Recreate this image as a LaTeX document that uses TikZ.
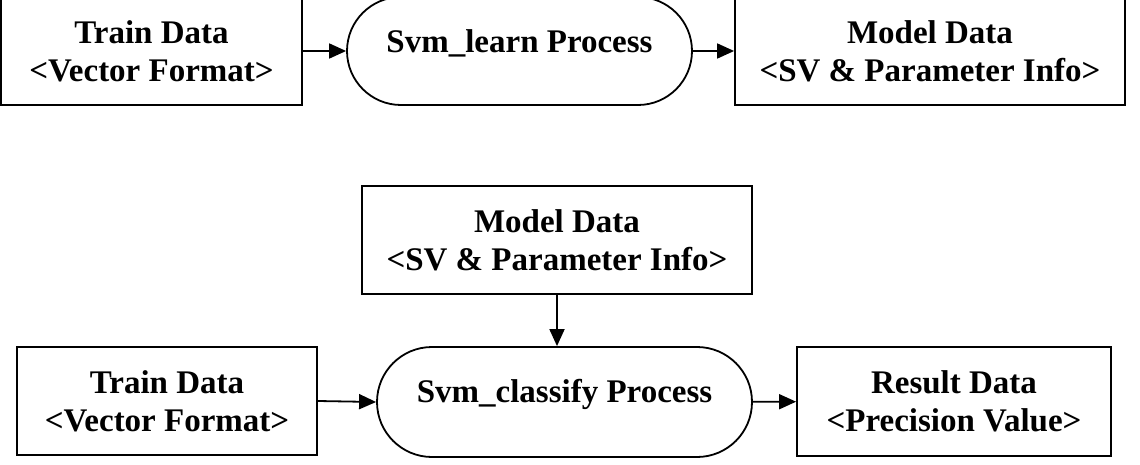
\documentclass[tikz,border=0pt]{standalone}
\usepackage{fontspec}
\setmainfont{Liberation Serif}
\usetikzlibrary{shapes.misc,arrows.meta}
\begin{document}
\begin{tikzpicture}[x=1pt,y=-1pt,
  txt/.style={font=\fontsize{33}{38}\selectfont\bfseries,align=center},
  box/.style={draw,line width=1.8pt,rectangle,inner sep=0pt,txt},
  proc/.style={draw,line width=1.8pt,rounded rectangle,inner sep=0pt},
  arr/.style={line width=1.8pt,-{Triangle[length=17pt,width=15pt]}}]
\useasboundingbox (0,0) rectangle (1140,465);
% top row
\node[box,minimum width=301pt,minimum height=108pt] (train1) at (151.5,51) {Train Data\\<Vector Format>};
\node[proc,minimum width=345pt,minimum height=108pt] (learn) at (519.5,51) {};
\node[txt] (learnt) at (519.5,43) {Svm\_learn Process};
\node[box,minimum width=390pt,minimum height=108pt] (model1) at (930,51) {Model Data\\<SV \& Parameter Info>};
\draw[arr] (train1) -- (learn);
\draw[arr] (learn) -- (model1);
% bottom part
\node[box,minimum width=390pt,minimum height=108pt] (model2) at (557,240) {Model Data\\<SV \& Parameter Info>};
\node[box,minimum width=300pt,minimum height=108pt] (train2) at (167,401) {Train Data\\<Vector Format>};
\node[proc,minimum width=375pt,minimum height=110pt] (classify) at (564.5,402) {};
\node[txt] (classt) at (564.5,394) {Svm\_classify Process};
\node[box,minimum width=314pt,minimum height=109pt] (result) at (954,401.5) {Result Data\\<Precision Value>};
\draw[arr] (model2.south) -- (model2.south |- classify.north);
\draw[arr] (train2.east) -- (classify.west);
\draw[arr] (classify) -- (result);
\end{tikzpicture}
\end{document}
